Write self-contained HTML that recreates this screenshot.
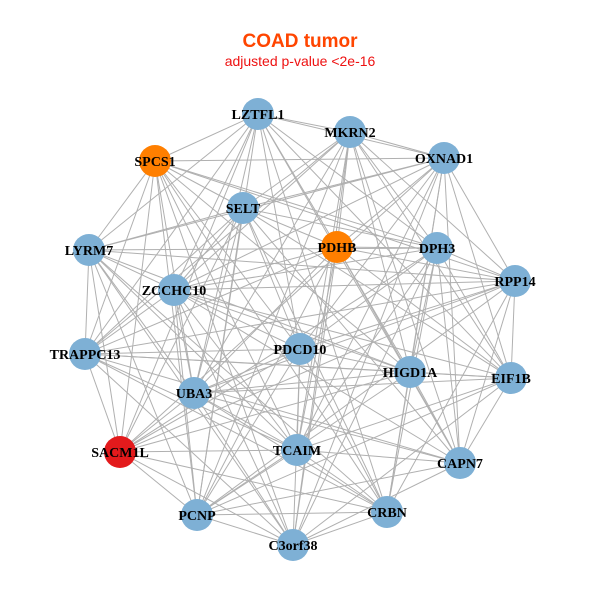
<!DOCTYPE html>
<html><head><meta charset="utf-8"><style>
html,body{margin:0;padding:0;background:#fff;width:600px;height:600px;overflow:hidden}
</style></head><body>
<svg id="s" width="600" height="600" xmlns="http://www.w3.org/2000/svg">
<rect width="600" height="600" fill="#fff"/>
<text x="300" y="47" text-anchor="middle" font-family="Liberation Sans, sans-serif" font-weight="bold" font-size="19" fill="#ff4500">COAD tumor</text>
<text x="300" y="66" text-anchor="middle" font-family="Liberation Sans, sans-serif" font-size="14" fill="#ee1111">adjusted p-value &lt;2e-16</text>
<g id="edges" stroke="#b0b0b0" stroke-width="1"></g>
<g id="nodes"></g>
<g font-family="Liberation Serif, serif" font-weight="bold" font-size="14" fill="#000" text-anchor="middle">
<text x="258" y="119">LZTFL1</text>
<text x="350" y="137">MKRN2</text>
<text x="444" y="163">OXNAD1</text>
<text x="155" y="166">SPCS1</text>
<text x="243" y="213">SELT</text>
<text x="337" y="252">PDHB</text>
<text x="437" y="253">DPH3</text>
<text x="89" y="255">LYRM7</text>
<text x="515" y="286">RPP14</text>
<text x="174" y="295">ZCCHC10</text>
<text x="85" y="359">TRAPPC13</text>
<text x="300" y="354">PDCD10</text>
<text x="410" y="377">HIGD1A</text>
<text x="511" y="383">EIF1B</text>
<text x="194" y="398">UBA3</text>
<text x="120" y="457">SACM1L</text>
<text x="297" y="455">TCAIM</text>
<text x="460" y="468">CAPN7</text>
<text x="197" y="520">PCNP</text>
<text x="387" y="517">CRBN</text>
<text x="293" y="550">C3orf38</text>
</g>
</svg>
<script>
var N=[[258,114,0],[350,132,0],[444,158,0],[155,161,1],[243,208,0],[337,247,1],[437,248,0],[89,250,0],[515,281,0],[174,290,0],[85,354,0],[300,349,0],[410,372,0],[511,378,0],[194,393,0],[120,452,2],[297,450,0],[460,463,0],[197,515,0],[387,512,0],[293,545,0]];
var ns="http://www.w3.org/2000/svg",E=document.getElementById("edges"),G=document.getElementById("nodes");
for(var i=0;i<N.length;i++)for(var j=i+1;j<N.length;j++){
 if((i*7+j*3)%4==0)continue;
 var l=document.createElementNS(ns,"line");
 l.setAttribute("x1",N[i][0]);l.setAttribute("y1",N[i][1]);l.setAttribute("x2",N[j][0]);l.setAttribute("y2",N[j][1]);E.appendChild(l);}
var C=["#7eb0d5","#ff7f00","#e31a1c"];
N.forEach(function(n){var c=document.createElementNS(ns,"circle");c.setAttribute("cx",n[0]);c.setAttribute("cy",n[1]);c.setAttribute("r",16);c.setAttribute("fill",C[n[2]]);G.appendChild(c);});
</script>
</body></html>
